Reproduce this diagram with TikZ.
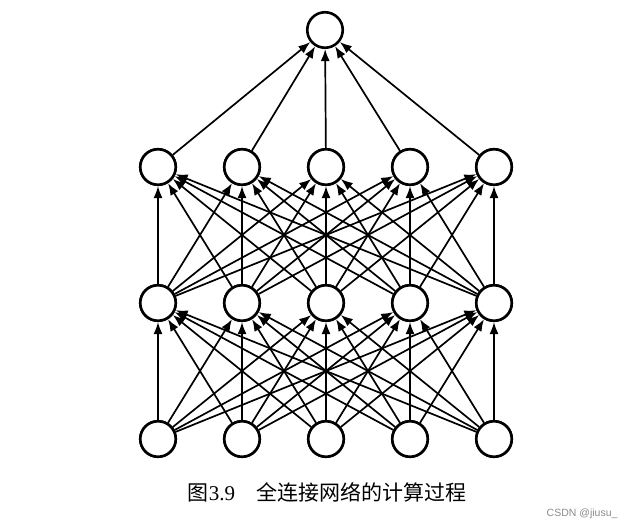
\documentclass[tikz,border=0pt]{standalone}
\usepackage{fontspec}
\setmainfont{Liberation Serif}
\newfontfamily\cjk{Noto Sans CJK SC}
\newfontfamily\wmfont{Liberation Sans}
\usetikzlibrary{arrows.meta}
\begin{document}
\begin{tikzpicture}[x=1pt,y=-1pt,
  neuron/.style={circle,draw=black,line width=2.6pt,fill=white,minimum size=35.5pt,inner sep=0pt},
  conn/.style={line width=1.7pt,-{Latex[length=12pt,width=9pt]}},
  caption/.style={font=\fontsize{21}{24}\selectfont},
  wm/.style={font=\wmfont\fontsize{10.5}{12}\selectfont,text=black!45}]
\useasboundingbox[fill=white] (0,0) rectangle (636,530);
\node[neuron] (t) at (325,30) {};
\foreach \i/\x in {1/158,2/242,3/326,4/410,5/494} {
  \node[neuron] (a\i) at (\x,167) {};
  \node[neuron] (b\i) at (\x,303) {};
  \node[neuron] (c\i) at (\x,439) {};
}
\foreach \i in {1,...,5} {
  \draw[conn] (a\i) -- (t);
  \foreach \j in {1,...,5} {
    \draw[conn] (b\j) -- (a\i);
    \draw[conn] (c\j) -- (b\i);
  }
}
% redraw circles on top
\foreach \i in {1,...,5} {
  \node[neuron] at (a\i) {};
  \node[neuron] at (b\i) {};
  \node[neuron] at (c\i) {};
}
\node[caption] (cap) at (327,492) {{\cjk 图}3.9{\cjk 　全连接网络的计算过程}};
\node[wm,anchor=east] (wmk) at (621,514) {CSDN @jiusu\_};
\end{tikzpicture}
\end{document}
